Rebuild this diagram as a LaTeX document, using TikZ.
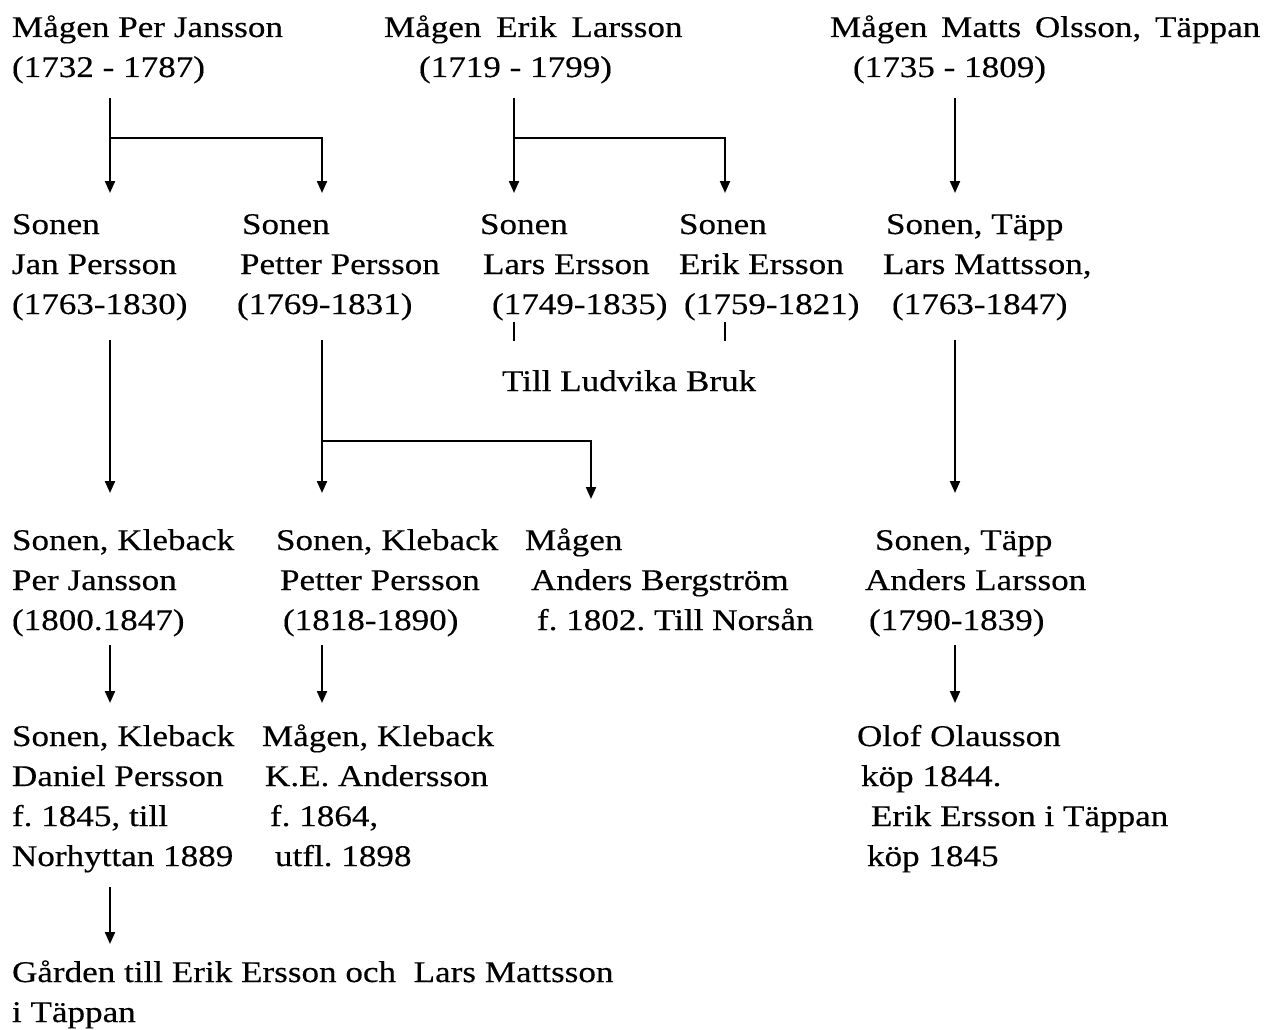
\documentclass[tikz,border=0pt]{standalone}
\usepackage{fontspec}
\setmainfont{Liberation Serif}[FakeStretch=1.17,FakeBold=0.3]
\usetikzlibrary{arrows.meta}
\frenchspacing
\begin{document}
\begin{tikzpicture}[x=1pt,y=-1pt,
  txt/.style={anchor=base west,inner sep=0pt,outer sep=0pt,font=\fontsize{30}{40}\selectfont\frenchspacing},
  arr/.style={line width=2.1pt,-{Triangle[width=10pt,length=12pt]}},
  ln/.style={line width=2.1pt}]
\useasboundingbox (0,0) rectangle (1271,1030);
% Row 1
\node[txt] (a1) at (12,37) {Mågen Per Jansson};
\node[txt] (a2) at (12,77) {(1732 - 1787)};
\node[txt] (b1) at (384,37) {Mågen\hspace{6pt} Erik\hspace{6pt} Larsson};
\node[txt] (b2) at (419,77) {(1719 - 1799)};
\node[txt] (c1) at (830,37) {Mågen\hspace{5pt} Matts\hspace{5pt} Olsson,\hspace{5pt} Täppan};
\node[txt] (c2) at (853,77) {(1735 - 1809)};
% Row 2
\node[txt] (d1) at (12,234) {Sonen};
\node[txt] (d2) at (12,274) {Jan Persson};
\node[txt] (d3) at (12,314) {(1763-1830)};
\node[txt] (e1) at (242,234) {Sonen};
\node[txt] (e2) at (240,274) {Petter Persson};
\node[txt] (e3) at (237,314) {(1769-1831)};
\node[txt] (f1) at (480,234) {Sonen};
\node[txt] (f2) at (483,274) {Lars Ersson};
\node[txt] (f3) at (492,314) {(1749-1835)};
\node[txt] (g1) at (679,234) {Sonen};
\node[txt] (g2) at (679,274) {Erik Ersson};
\node[txt] (g3) at (684,314) {(1759-1821)};
\node[txt] (h1) at (886,234) {Sonen, Täpp};
\node[txt] (h2) at (883,274) {Lars Mattsson,};
\node[txt] (h3) at (892,314) {(1763-1847)};
\node[txt] (lb) at (502,391) {Till Ludvika Bruk};
% Row 3
\node[txt] (i1) at (12,550) {Sonen, Kleback};
\node[txt] (i2) at (12,590) {Per Jansson};
\node[txt] (i3) at (12,630) {(1800.1847)};
\node[txt] (j1) at (276,550) {Sonen, Kleback};
\node[txt] (j2) at (280,590) {Petter Persson};
\node[txt] (j3) at (283,630) {(1818-1890)};
\node[txt] (k1) at (525,550) {Mågen};
\node[txt] (k2) at (531,590) {Anders Bergström};
\node[txt] (k3) at (537,630) {f. 1802. Till Norsån};
\node[txt] (l1) at (875,550) {Sonen, Täpp};
\node[txt] (l2) at (865,590) {Anders Larsson};
\node[txt] (l3) at (869,630) {(1790-1839)};
% Row 4
\node[txt] (m1) at (12,746) {Sonen, Kleback};
\node[txt] (m2) at (12,786) {Daniel Persson};
\node[txt] (m3) at (12,826) {f. 1845, till};
\node[txt] (m4) at (12,866) {Norhyttan 1889};
\node[txt] (n1) at (262,746) {Mågen, Kleback};
\node[txt] (n2) at (265,786) {K.E. Andersson};
\node[txt] (n3) at (270,826) {f. 1864,};
\node[txt] (n4) at (275,866) {utfl. 1898};
\node[txt] (o1) at (857,746) {Olof Olausson};
\node[txt] (o2) at (861,786) {köp 1844.};
\node[txt] (o3) at (871,826) {Erik Ersson i Täppan};
\node[txt] (o4) at (867,866) {köp 1845};
% Row 5
\node[txt] (p1) at (12,982) {Gården till Erik Ersson och\ \ Lars Mattsson};
\node[txt] (p2) at (12,1022) {i Täppan};
% connector coordinates
\coordinate (A0) at (110,98);  \coordinate (Aj) at (110,138);
\coordinate (A1) at (110,193); \coordinate (A2) at (322,193);
\coordinate (B0) at (514,98);  \coordinate (Bj) at (514,138);
\coordinate (B1) at (514,193); \coordinate (B2) at (725,193);
\coordinate (C0) at (955,98);  \coordinate (C1) at (955,193);
\coordinate (T1a) at (514,322); \coordinate (T1b) at (514,341);
\coordinate (T2a) at (725,322); \coordinate (T2b) at (725,341);
\coordinate (D0) at (110,340); \coordinate (D1) at (110,493);
\coordinate (E0) at (322,340); \coordinate (Ej) at (322,441);
\coordinate (E1) at (322,493); \coordinate (E2) at (591,499);
\coordinate (H0) at (955,340); \coordinate (H1) at (955,493);
\coordinate (I0) at (110,645); \coordinate (I1) at (110,703);
\coordinate (J0) at (322,645); \coordinate (J1) at (322,703);
\coordinate (L0) at (955,645); \coordinate (L1) at (955,703);
\coordinate (M0) at (110,887); \coordinate (M1) at (110,944);
% connectors
\draw[arr] (A0) -- (A1);
\draw[arr] (Aj) -| (A2);
\draw[arr] (B0) -- (B1);
\draw[arr] (Bj) -| (B2);
\draw[arr] (C0) -- (C1);
\draw[ln] (T1a) -- (T1b);
\draw[ln] (T2a) -- (T2b);
\draw[arr] (D0) -- (D1);
\draw[arr] (E0) -- (E1);
\draw[arr] (Ej) -| (E2);
\draw[arr] (H0) -- (H1);
\draw[arr] (I0) -- (I1);
\draw[arr] (J0) -- (J1);
\draw[arr] (L0) -- (L1);
\draw[arr] (M0) -- (M1);
\end{tikzpicture}
\end{document}
